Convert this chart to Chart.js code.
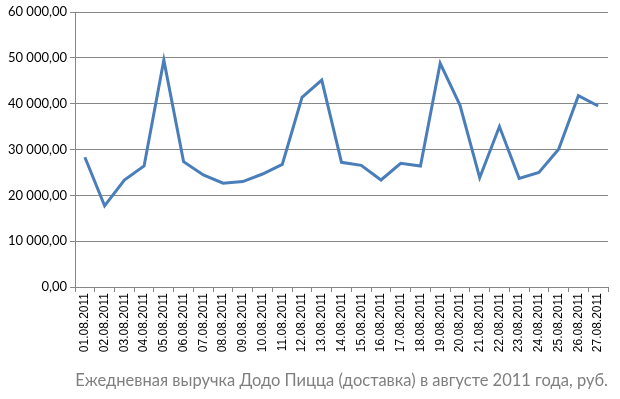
<!DOCTYPE html>
<html>
<head>
<meta charset="utf-8">
<script src="https://cdn.jsdelivr.net/npm/chart.js@4"></script>
<style>
  html, body { margin:0; padding:0; background:#fff; }
  #wrap { width:620px; height:399px; position:relative; }
</style>
</head>
<body>
<div id="wrap"><canvas id="revenueChart"></canvas></div>
<script>
// daily delivery revenue, Aug 2011
const days = [
  '01.08.2011','02.08.2011','03.08.2011','04.08.2011','05.08.2011','06.08.2011','07.08.2011',
  '08.08.2011','09.08.2011','10.08.2011','11.08.2011','12.08.2011','13.08.2011','14.08.2011',
  '15.08.2011','16.08.2011','17.08.2011','18.08.2011','19.08.2011','20.08.2011','21.08.2011',
  '22.08.2011','23.08.2011','24.08.2011','25.08.2011','26.08.2011','27.08.2011'
];
const revenue = [
  28300, 17700, 23350, 26400, 49500, 27350, 24450,
  22650, 23000, 24650, 26750, 41400, 45150, 27200,
  26550, 23350, 27000, 26400, 48800, 39700, 23850,
  35000, 23700, 25000, 30050, 41750, 39500
];
const yMin = 0, yMax = 60000, yStep = 10000;
const titleText = 'Ежедневная выручка Додо Пицца (доставка) в августе 2011 года, руб.';

const fmt = v => {
  const s = Math.round(v).toString().replace(/\B(?=(\d{3})+(?!\d))/g, ' ');
  return s + ',00';
};

new Chart(document.getElementById('revenueChart'), {
  type: 'line',
  data: {
    labels: days,
    datasets: [{
      data: revenue,
      borderColor: '#4a7ebb',
      borderWidth: 3,
      pointRadius: 0,
      tension: 0,
      fill: false
    }]
  },
  options: {
    responsive: true,
    maintainAspectRatio: false,
    animation: false,
    layout: { padding: { left: 0, right: 12, top: 12, bottom: 0 } },
    plugins: {
      legend: { display: false },
      tooltip: { enabled: false },
      title: {
        display: true,
        text: titleText,
        position: 'bottom',
        align: 'end',
        color: '#7f7f7f',
        font: { family: 'Lato', size: 16.5, weight: 'normal' },
        padding: { top: 0, bottom: 8 }
      }
    },
    scales: {
      x: {
        offset: true,
        grid: { drawOnChartArea: false, drawTicks: true, tickLength: 5, offset: true, color: '#868686' },
        border: { color: '#868686', width: 1 },
        ticks: {
          autoSkip: false, minRotation: 90, maxRotation: 90, padding: 1,
          color: '#000', font: { family: 'Liberation Sans', size: 12 }
        },
        afterFit: s => { s.height = 84.2; }
      },
      y: {
        min: yMin, max: yMax,
        grid: { color: '#868686', tickLength: 5 },
        border: { color: '#868686', width: 1 },
        ticks: {
          stepSize: yStep, padding: 3,
          color: '#000', font: { family: 'Lato', size: 13 },
          callback: v => fmt(v)
        },
        afterFit: s => { s.width = 75; }
      }
    }
  }
});
</script>
</body>
</html>
